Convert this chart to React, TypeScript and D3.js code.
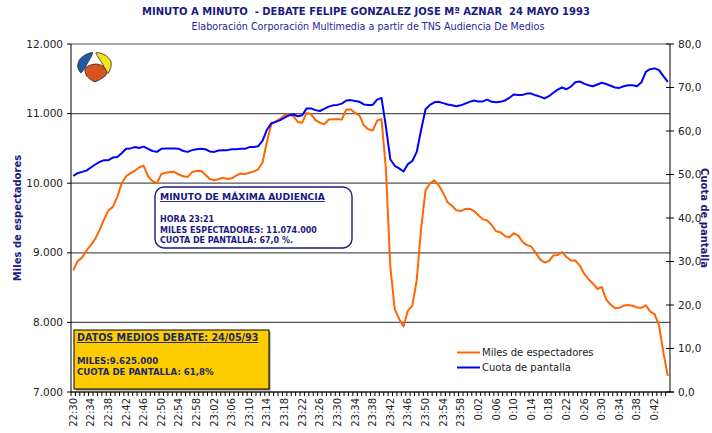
import React from 'react';
import * as d3 from 'd3';

// minuto a minuto, 22:30 -> 0:45
const miles = [
  8750, 8880, 8930, 9030, 9110, 9200, 9330, 9480, 9610, 9660,
  9800, 10000, 10100, 10140, 10180, 10230, 10250, 10100, 10030, 10000,
  10130, 10150, 10160, 10160, 10125, 10100, 10090, 10160, 10175, 10180,
  10120, 10060, 10040, 10060, 10080, 10060, 10070, 10110, 10140, 10130,
  10150, 10170, 10200, 10300, 10600, 10850, 10890, 10930, 10980, 10990,
  10960, 10880, 10870, 11010, 10990, 10905, 10870, 10845, 10915, 10920,
  10920, 10915, 11060, 11060, 11010, 10970, 10830, 10775, 10755, 10900,
  10920, 10200, 8800, 8190, 8050, 7940, 8170, 8240, 8610, 9350,
  9900, 9995, 10040, 9970, 9860, 9725, 9675, 9610, 9600, 9630,
  9634, 9600, 9540, 9480, 9465, 9400, 9310, 9295, 9240, 9220,
  9280, 9250, 9160, 9110, 9090, 9000, 8905, 8860, 8880, 8960,
  8970, 9010, 8940, 8890, 8890, 8820, 8700, 8620, 8560, 8480,
  8510, 8330, 8255, 8205, 8210, 8240, 8250, 8240, 8215, 8210,
  8245, 8155, 8120, 7960, 7570, 7230,
];

const cuota = [
  49.7, 50.3, 50.6, 50.9, 51.6, 52.3, 52.9, 53.3, 53.3, 53.9,
  54.0, 54.9, 55.9, 56.0, 56.3, 56.1, 56.4, 55.9, 55.4, 55.2,
  55.9, 56.0, 56.0, 56.0, 55.9, 55.4, 55.2, 55.6, 55.8, 55.9,
  55.8, 55.3, 55.2, 55.5, 55.6, 55.6, 55.8, 55.8, 55.9, 55.9,
  56.3, 56.3, 56.5, 57.8, 60.3, 61.8, 62.1, 62.5, 63.1, 63.6,
  63.8, 63.4, 63.6, 65.2, 65.2, 64.8, 64.6, 65.1, 65.6, 65.9,
  66.0, 66.3, 67.0, 67.1, 66.9, 66.7, 66.1, 66.0, 66.0, 67.2,
  67.6, 61.0, 53.5, 52.0, 51.4, 50.7, 52.4, 53.1, 55.2, 60.3,
  65.0, 66.0, 66.6, 66.7, 66.4, 66.1, 65.9, 65.7, 65.9, 66.3,
  66.7, 67.0, 66.8, 66.8, 67.2, 66.7, 66.6, 66.7, 67.0, 67.6,
  68.4, 68.3, 68.3, 68.6, 68.6, 68.2, 67.9, 67.5, 68.0, 68.8,
  69.5, 70.0, 69.6, 70.2, 71.2, 71.4, 70.9, 70.5, 70.3, 70.7,
  71.1, 70.8, 70.4, 70.0, 69.9, 70.3, 70.5, 70.5, 70.3, 71.2,
  73.6, 74.2, 74.4, 74.0, 72.6, 71.3,
];

const tickLabels = [
  '22:30', '22:34', '22:38', '22:42', '22:46', '22:50', '22:54', '22:58',
  '23:02', '23:06', '23:10', '23:14', '23:18', '23:22', '23:26', '23:30',
  '23:34', '23:38', '23:42', '23:46', '23:50', '23:54', '23:58', '0:02',
  '0:06', '0:10', '0:14', '0:18', '0:22', '0:26', '0:30', '0:34', '0:38', '0:42',
];

const seriesNames = ['Miles de espectadores', 'Cuota de pantalla'];

// categorias: un minuto por punto
const minutos = miles.map((_, i) => {
  const t = 22 * 60 + 30 + i;
  const h = Math.floor(t / 60) % 24;
  const m = t % 60;
  return `${h}:${m < 10 ? '0' + m : m}`;
});

const FONT = "'DejaVu Sans', Verdana, sans-serif";
const NAVY = '#1a1a80';
const W = 712, H = 433;
const left = 71, right = 670, top = 44, bottom = 392;

const es = d3.formatLocale({ decimal: ',', thousands: '.', grouping: [3], currency: ['', ''] });
const fmtMiles = es.format(',.0f');
const fmtCuota = es.format('.1f');

const logo = {
  azul: [[92.7, 52.7], [85, 55], [79.3, 60], [77.7, 66.7], [80.7, 72.7], [83.3, 70], [88.3, 61.7]],
  amarillo: [[96, 52.7], [105, 55], [110.7, 60.7], [111, 66.7], [108.3, 73.3], [106.7, 71.7], [101.7, 62.7]],
  naranja: [[85, 68.3], [90.7, 65], [96.7, 64], [102.7, 66], [106.7, 71.7], [105, 76], [95, 81.7], [86.7, 76]],
};

export default function App() {
  const x = d3.scaleBand().domain(minutos).range([left, right]).padding(0);
  const bw = x.bandwidth();
  const cx = (i: number) => (x(minutos[i]) as number) + bw / 2;
  const yL = d3.scaleLinear().domain([7000, 12000]).range([bottom, top]);
  const yR = d3.scaleLinear().domain([0, 80]).range([bottom, top]);

  const lineL = d3.line<number>().x((_, i) => cx(i)).y(d => yL(d));
  const lineR = d3.line<number>().x((_, i) => cx(i)).y(d => yR(d));
  const blob = d3.line().curve(d3.curveCardinalClosed.tension(0.3));

  const leftTicks = yL.ticks(5);
  const rightTicks = yR.ticks(8);

  return (
    <svg width={W} height={H} style={{ position: 'absolute', left: 0, top: 0 }} fontFamily={FONT}>
      <rect width={W} height={H} fill="#fff" />

      <text x={366} y={15} textAnchor="middle" fontSize={10} fontWeight="bold" fill={NAVY}
        style={{ whiteSpace: 'pre' }}>
        {'MINUTO A MINUTO  - DEBATE FELIPE GONZALEZ JOSE Mª AZNAR  24 MAYO 1993'}
      </text>
      <text x={368} y={30} textAnchor="middle" fontSize={9.6} fill="#26269a">
        Elaboración Corporación Multimedia a partir de TNS Audiencia De Medios
      </text>

      {/* rejilla */}
      {leftTicks.map(t => (
        <line key={t} x1={left} x2={right} y1={yL(t)} y2={yL(t)} stroke="#555" strokeWidth={1.2} />
      ))}

      {/* ejes */}
      <line x1={left} x2={left} y1={top} y2={bottom} stroke="#000" />
      <line x1={right} x2={right} y1={top} y2={bottom} stroke="#000" />
      <line x1={left} x2={right + 4} y1={bottom} y2={bottom} stroke="#000" />

      {leftTicks.map(t => (
        <g key={t}>
          <line x1={left - 4} x2={left} y1={yL(t)} y2={yL(t)} stroke="#000" />
          <text x={left - 8} y={yL(t)} dy="0.35em" textAnchor="end" fontSize={10.5} fill="#222">
            {fmtMiles(t)}
          </text>
        </g>
      ))}
      {rightTicks.map(t => (
        <g key={t}>
          <line x1={right - 4} x2={right + 4} y1={yR(t)} y2={yR(t)} stroke="#000" />
          <text x={right + 8} y={yR(t)} dy="0.35em" fontSize={10.5} fill="#222">
            {fmtCuota(t)}
          </text>
        </g>
      ))}

      {minutos.map((m, i) => (
        <line key={m} x1={x(m) as number} x2={x(m) as number} y1={bottom} y2={bottom + 4} stroke="#000" />
      ))}
      {tickLabels.map(l => {
        const i = minutos.indexOf(l);
        return (
          <text key={l} transform={`translate(${cx(i) + 3.5},${bottom + 6}) rotate(-90)`}
            textAnchor="end" fontSize={10} fill="#222">
            {l}
          </text>
        );
      })}

      <text transform={`translate(21,${(top + bottom) / 2}) rotate(-90)`} textAnchor="middle"
        fontSize={10} fontWeight="bold" fill={NAVY}>
        Miles de espectadores
      </text>
      <text transform={`translate(701,${(top + bottom) / 2}) rotate(90)`} textAnchor="middle"
        fontSize={10} fontWeight="bold" fill={NAVY}>
        Cuota de pantalla
      </text>

      {/* logo */}
      <g stroke="#222" strokeWidth={0.8}>
        <path d={blob(logo.azul as [number, number][]) as string} fill="#1f5aa6" />
        <path d={blob(logo.amarillo as [number, number][]) as string} fill="#f5e21a" />
        <path d={blob(logo.naranja as [number, number][]) as string} fill="#d9531e" />
      </g>

      {/* series */}
      <path d={lineL(miles) as string} fill="none" stroke="#ff6600" strokeWidth={2} strokeLinejoin="round" />
      <path d={lineR(cuota) as string} fill="none" stroke="#0000ff" strokeWidth={2} strokeLinejoin="round" />

      {/* minuto de maxima audiencia */}
      <rect x={155} y={187} width={197} height={61} rx={9} fill="#fff" stroke={NAVY} strokeWidth={1.4} />
      <g fontSize={8} fontWeight="bold" fill={NAVY}>
        <text x={160} y={200} textDecoration="underline" fontSize={9.2}>MINUTO DE MÁXIMA AUDIENCIA</text>
        <text x={160} y={222}>HORA 23:21</text>
        <text x={160} y={232.5}>MILES ESPECTADORES: 11.074.000</text>
        <text x={160} y={243}>CUOTA DE PANTALLA: 67,0 %.</text>
      </g>

      {/* datos medios */}
      <rect x={75.5} y={331.5} width={195} height={59} fill="#888" />
      <rect x={74} y={330} width={195} height={59} fill="#ffcc00" stroke="#000" strokeWidth={1} />
      <g fontWeight="bold" fill="#1a2a6a">
        <text x={77} y={341} fontSize={9.6} textDecoration="underline">DATOS MEDIOS DEBATE: 24/05/93</text>
        <text x={77} y={364} fontSize={8.6}>MILES:9.625.000</text>
        <text x={77} y={374.5} fontSize={8.6}>CUOTA DE PANTALLA: 61,8%</text>
      </g>

      {/* leyenda */}
      {seriesNames.map((n, i) => (
        <g key={n} transform={`translate(457,${352.5 + i * 15})`}>
          <line x1={0} x2={23} y1={0} y2={0} stroke={i === 0 ? '#ff6600' : '#0000ff'} strokeWidth={2} />
          <text x={25} y={0} dy="0.35em" fontSize={10} fill="#222">{n}</text>
        </g>
      ))}
    </svg>
  );
}
